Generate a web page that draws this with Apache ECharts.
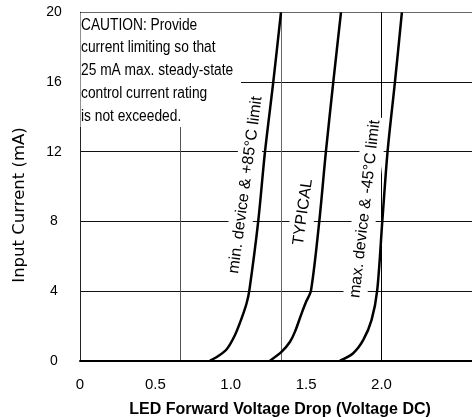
<!DOCTYPE html>
<html><head><meta charset="utf-8">
<script src="https://cdn.jsdelivr.net/npm/echarts@6/dist/echarts.min.js"></script>
<style>html,body{margin:0;padding:0;background:#fff}#c{width:472px;height:418px}</style>
</head><body><div id="c"></div>
<script>
// ---- data ----
const xTickValues = [0, 0.5, 1.0, 1.5, 2.0];
const yTickValues = [0, 4, 8, 12, 16, 20];
const xAxisTitle = 'LED Forward Voltage Drop (Voltage DC)';
const yAxisTitle = 'Input Current (mA)';
const seriesNames = ['min. device & +85°C limit', 'TYPICAL', 'max. device & -45°C limit'];
const minDeviceV = [0.862, 0.917, 0.973, 1.028, 1.072, 1.105, 1.123, 1.182, 1.227, 1.282, 1.333];
const minDeviceI = [0, 0.27, 0.66, 1.48, 2.44, 3.30, 4.02, 8.0, 12.0, 16.0, 20.0];
const typicalV = [1.260, 1.338, 1.393, 1.426, 1.470, 1.499, 1.532, 1.587, 1.631, 1.680, 1.731];
const typicalI = [0, 0.52, 1.09, 1.67, 2.72, 3.37, 4.02, 8.0, 12.0, 16.0, 20.0];
const maxDeviceV = [1.724, 1.812, 1.879, 1.934, 1.971, 2.005, 2.040, 2.089, 2.135];
const maxDeviceI = [0, 0.43, 1.19, 2.34, 4.02, 8.0, 12.0, 16.0, 20.0];
const cautionLines = ['CAUTION: Provide', 'current limiting so that', '25 mA max. steady-state', 'control current rating', 'is not exceeded.'];

const FONT = '"Liberation Sans", Arial, Helvetica, sans-serif';
const zip = (a, b) => a.map((v, i) => [v, b[i]]);

const chart = echarts.init(document.getElementById('c'), null, {renderer: 'canvas'});

function lineSeries(name, v, i) {
  return {
    name: name, type: 'line', xAxisIndex: 0, yAxisIndex: 0,
    data: zip(v, i), showSymbol: false, symbol: 'none', smooth: 0.3,
    lineStyle: {color: '#000', width: 2.5}, z: 3, animation: false
  };
}

chart.setOption({
  animation: false,
  backgroundColor: '#fff',
  textStyle: {fontFamily: FONT},
  grid: {left: 80, right: 0, top: 12.3, bottom: 57.3, containLabel: false, outerBoundsMode: 'none'},
  xAxis: [{
    type: 'value', min: 0, max: 2.6, interval: 0.5, position: 'bottom',
    axisLine: {show: true, onZero: false, lineStyle: {color: '#000', width: 2}},
    axisTick: {show: false},
    splitLine: {show: false},
    axisLabel: {
      customValues: xTickValues,
      formatter: v => {
        const hit = xTickValues.find(t => Math.abs(t - v) < 1e-6);
        return hit === undefined ? '' : (hit === 0 ? '0' : hit.toFixed(1));
      },
      fontSize: 15, color: '#000', margin: 17, fontFamily: FONT
    },
    name: xAxisTitle, nameLocation: 'middle', nameGap: 41,
    nameTextStyle: {fontWeight: 'bold', fontSize: 16, color: '#000', fontFamily: FONT, padding: [0, 0, 0, 8]}
  }, {
    type: 'value', min: 0, max: 2.6, interval: 2 / 3, position: 'top',
    axisLine: {show: false}, axisTick: {show: false}, axisLabel: {show: false},
    splitLine: {show: true, lineStyle: {color: ['#000', '#555', '#666', '#000', 'rgba(0,0,0,0)'], width: 1}}
  }],
  yAxis: {
    type: 'value', min: 0, max: 20, interval: 4,
    axisLine: {show: true, onZero: false, lineStyle: {color: '#222', width: 1}},
    axisTick: {show: false},
    axisLabel: {fontSize: 14, color: '#000', align: 'center', margin: 26, fontFamily: FONT},
    splitLine: {show: true, lineStyle: {color: ['#000', '#111', '#111', '#111', '#111', '#666'], width: 1}},
    name: yAxisTitle, nameLocation: 'middle', nameGap: 52,
    nameTextStyle: {fontSize: 16.5, color: '#000', fontFamily: '"DejaVu Sans", sans-serif', padding: [0, 37, 0, 0]}
  },
  series: [
    lineSeries(seriesNames[0], minDeviceV, minDeviceI),
    lineSeries(seriesNames[1], typicalV, typicalI),
    lineSeries(seriesNames[2], maxDeviceV, maxDeviceI)
  ],
  graphic: {elements: [
    {type: 'rect', shape: {x: 80.5, y: 13, width: 160.5, height: 114}, style: {fill: '#fff'}, z: 1, silent: true},
    {type: 'text', x: 81, y: 14, z: 2, silent: true, scaleX: 0.86,
      style: {text: cautionLines.join('\n'), fontSize: 16, fontFamily: FONT,
        lineHeight: 22.7, fill: '#000', align: 'left', verticalAlign: 'top'}},
    {type: 'text', x: 245.5, y: 185, rotation: 82.4 * Math.PI / 180, z: 1, silent: true,
      style: {text: seriesNames[0], fontSize: 16, fontFamily: FONT, fill: '#000', align: 'center', verticalAlign: 'middle', backgroundColor: '#fff', padding: [4, 3]}},
    {type: 'text', x: 303, y: 212, rotation: 82 * Math.PI / 180, z: 1, silent: true,
      style: {text: seriesNames[1], fontSize: 16, fontFamily: FONT, fill: '#000', align: 'center', verticalAlign: 'middle', backgroundColor: '#fff', padding: [4, 3]}},
    {type: 'text', x: 365, y: 209, rotation: 83.5 * Math.PI / 180, z: 1, silent: true,
      style: {text: seriesNames[2], fontSize: 16, fontFamily: FONT, fill: '#000', align: 'center', verticalAlign: 'middle', backgroundColor: '#fff', padding: [4, 3]}}
  ]}
});
</script></body></html>
